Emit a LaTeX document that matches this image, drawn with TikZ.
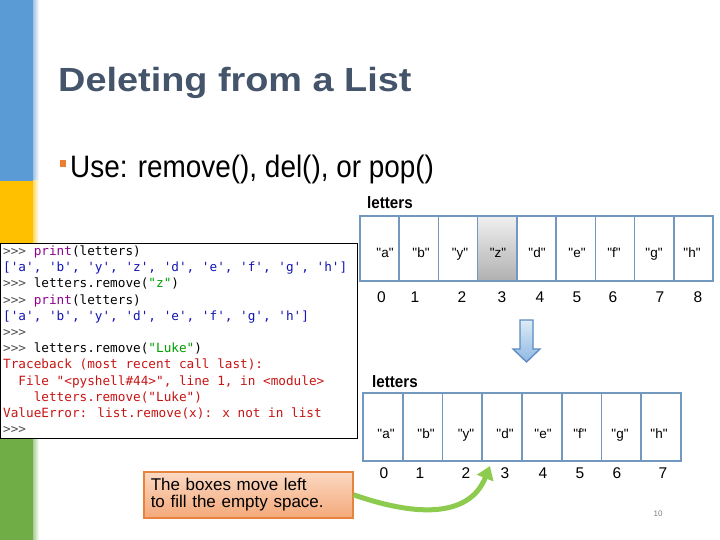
\documentclass[tikz,border=0pt]{standalone}
\usepackage{fontspec}
\usepackage{graphicx}
\setmainfont{Liberation Sans}
\newfontfamily\arialf{Liberation Sans}
\newfontfamily\codefont{DejaVu Sans Mono}
\usetikzlibrary{arrows.meta}
\definecolor{barblue}{HTML}{5B9BD5}
\definecolor{baryellow}{HTML}{FFC000}
\definecolor{bargreen}{HTML}{70AD47}
\definecolor{titlecol}{HTML}{44546A}
\definecolor{bulletor}{HTML}{ED7D31}
\definecolor{cellline}{HTML}{7298C0}
\definecolor{arrgreen}{HTML}{8DCB4F}
\definecolor{calloutline}{HTML}{E6843E}
\definecolor{calltop}{HTML}{FBD9C3}
\definecolor{callbot}{HTML}{F4A97A}
\definecolor{promptcol}{HTML}{505050}
\definecolor{builtin}{HTML}{900090}
\definecolor{outblue}{HTML}{1414B4}
\definecolor{strgreen}{HTML}{00A000}
\definecolor{errred}{HTML}{C81414}
\definecolor{arrowtop}{HTML}{DDEBF7}
\definecolor{arrowbot}{HTML}{8EB8E2}
\definecolor{arrowline}{HTML}{5B8BC0}
\tikzset{
  codeline/.style={anchor=base west, inner sep=0, font=\codefont\fontsize{12.7}{12.7}\selectfont},
  topcell/.style={draw=cellline, line width=1.6pt, inner sep=0, minimum width=39.22pt, minimum height=65pt},
  botcell/.style={draw=cellline, line width=1.6pt, inner sep=0, minimum width=39.75pt, minimum height=68pt},
  celltext/.style={anchor=base, inner sep=0, font=\arialf\fontsize{13.5}{13.5}\selectfont},
  idxtext/.style={anchor=base, inner sep=0, font=\arialf\fontsize{15.5}{15.5}\selectfont},
  listlabel/.style={anchor=base west, inner sep=0, font=\bfseries\fontsize{16.5}{16.5}\selectfont},
  greenarrow/.style={draw=arrgreen, line width=5pt, -{Triangle[width=17pt,length=13pt]}},
}
\newcommand{\pr}{\textcolor{promptcol}{>>>}}
\begin{document}
\begin{tikzpicture}[x=1pt,y=-1pt]
\useasboundingbox (0,0) rectangle (720,540);
\fill[white] (0,0) rectangle (720,540);
% left bars
\fill[barblue] (0,0) rectangle (33,181);
\shade[left color=barblue!60, right color=white] (33,0) rectangle (39,181);
\fill[baryellow] (0,181) rectangle (33,300);
\shade[left color=baryellow!60, right color=white] (33,181) rectangle (39,300);
\fill[bargreen] (0,400) rectangle (33,540);
\shade[left color=bargreen!60, right color=white] (33,400) rectangle (39,540);
% title and bullet
\node[anchor=base west, inner sep=0, text=titlecol, font=\bfseries\fontsize{33.5}{33.5}\selectfont] (title) at (58,92) {\scalebox{1.13}[1]{Deleting from a List}};
\node[fill=bulletor, inner sep=0, minimum width=6pt, minimum height=7pt, anchor=north west] (bullet) at (60,160) {};
\node[anchor=base west, inner sep=0, font=\fontsize{31}{31}\selectfont] (use) at (70,178) {\scalebox{0.9}[1]{Use: remove(), del(), or pop()}};
% code box
\node[draw=black, line width=1pt, fill=white, inner sep=0, minimum width=357pt, minimum height=195pt, anchor=north west] (code) at (0,243) {};
\node[codeline] (c1) at (3,255.5) {\pr{} \textcolor{builtin}{print}(letters)};
\node[codeline, text=outblue] (c2) at (3,271.7) {['a', 'b', 'y', 'z', 'd', 'e', 'f', 'g', 'h']};
\node[codeline] (c3) at (3,287.9) {\pr{} letters.remove(\textcolor{strgreen}{"z"})};
\node[codeline] (c4) at (3,304.1) {\pr{} \textcolor{builtin}{print}(letters)};
\node[codeline, text=outblue] (c5) at (3,320.3) {['a', 'b', 'y', 'd', 'e', 'f', 'g', 'h']};
\node[codeline] (c6) at (3,336.5) {\pr};
\node[codeline] (c7) at (3,352.7) {\pr{} letters.remove(\textcolor{strgreen}{"Luke"})};
\node[codeline, text=errred] (c8) at (3,368.9) {Traceback (most recent call last):};
\node[codeline, text=errred] (c9) at (3,385.1) {\hphantom{xx}File "<pyshell\#44>", line 1, in <module>};
\node[codeline, text=errred] (c10) at (3,401.3) {\hphantom{xxxx}letters.remove("Luke")};
\node[codeline, text=errred] (c11) at (3,417.5) {ValueError: list.remove(x): x not in list};
\node[codeline] (c12) at (3,433.7) {\pr};
% top list
\node[listlabel] (lab1) at (367,208) {\scalebox{0.92}[1]{letters}};
\foreach \i in {0,...,8} {
  \node[topcell] (t\i) at ({360+39.22*(\i+0.5)},248.5) {};
}
\node[topcell, top color=gray!12, bottom color=gray!62] (t3) at ({360+39.22*3.5},248.5) {};
\foreach \i/\x/\s in {0/385/a,1/421/b,2/460/y,3/498/z,4/537/d,5/577/e,6/614/f,7/654/g,8/692/h} {
  \node[celltext] (tt\i) at (\x,257) {"\s"};
}
\foreach \i/\x in {0/381.5,1/415,2/462,3/502,4/540,5/577,6/613,7/660,8/698} {
  \node[idxtext] (ti\i) at (\x,302) {\i};
}
% down arrow
\draw[arrowline, line width=1.3pt, top color=arrowtop, bottom color=arrowbot]
  (520,320) -- (533,320) -- (533,349) -- (540,349) -- (526.5,362) -- (513,349) -- (520,349) -- cycle;
% bottom list
\node[listlabel] (lab2) at (372,387) {\scalebox{0.92}[1]{letters}};
\foreach \i in {0,...,7} {
  \node[botcell] (b\i) at ({363+39.75*(\i+0.5)},427) {};
}
\foreach \i/\x/\s in {0/386/a,1/426/b,2/466/y,3/505/d,4/543/e,5/580/f,6/620/g,7/659/h} {
  \node[celltext] (bt\i) at (\x,438) {"\s"};
}
\foreach \i/\x in {0/384,1/420,2/466,3/505,4/543,5/580,6/617,7/663} {
  \node[idxtext] (bi\i) at (\x,478) {\i};
}
\node[text=gray, inner sep=0, font=\fontsize{8}{8}\selectfont] (pg) at (658,514) {10};
% callout
\node[draw=calloutline, line width=1.5pt, top color=calltop, bottom color=callbot,
  anchor=north west, text width=195pt, inner xsep=7pt, inner ysep=0pt, minimum height=46pt,
  align=left, font=\fontsize{17}{17}\selectfont] (call) at (143,471)
  {The boxes move left\\to fill the empty space.};
\coordinate (tip) at (490,466);
\draw[greenarrow] (call.east) .. controls (420,518) and (470,516) .. (tip);
\end{tikzpicture}
\end{document}
